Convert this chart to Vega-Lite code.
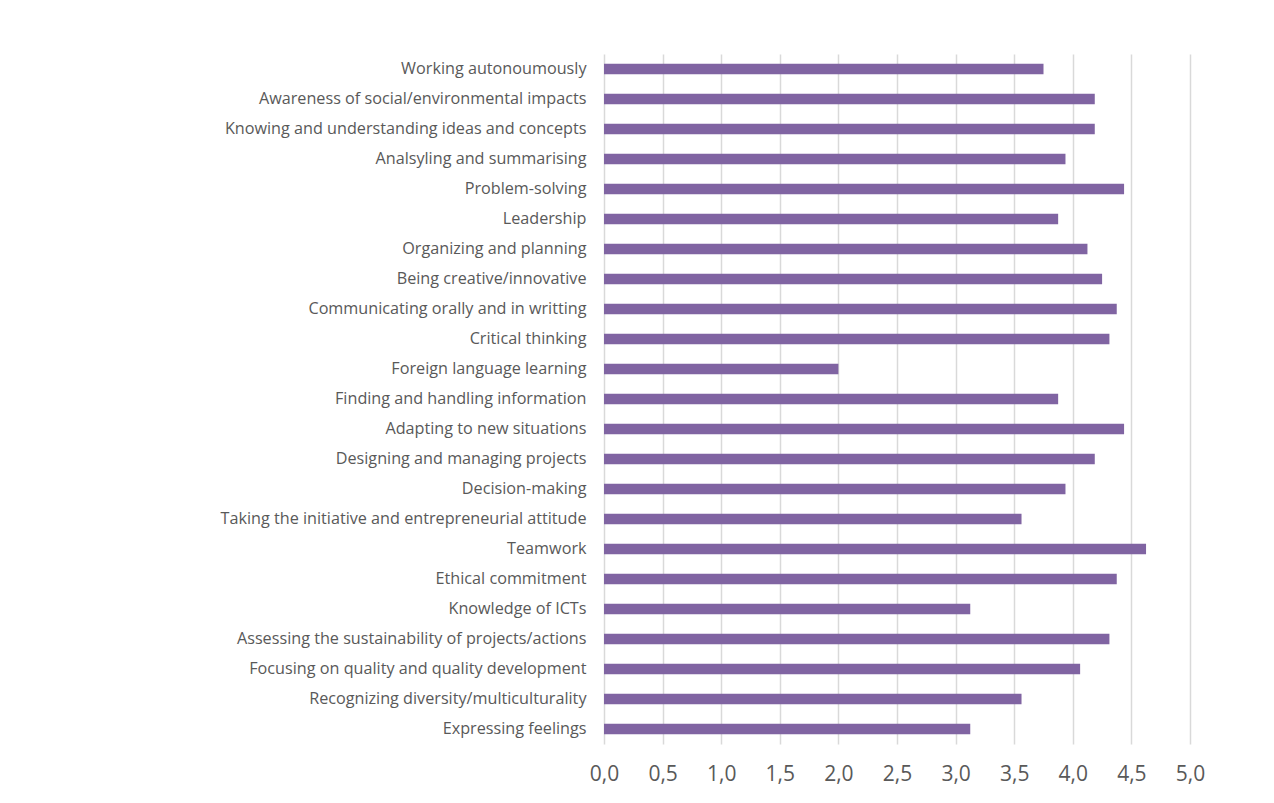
{
  "$schema": "https://vega.github.io/schema/vega-lite/v6.json",
  "autosize": {"type": "none"},
  "padding": {"left": 604, "top": 54, "right": 84, "bottom": 59},
  "width": 586,
  "height": 690,
  "background": "white",
  "data": {"values": [
    {"skill": "Working autonoumously", "score": 3.75},
    {"skill": "Awareness of social/environmental impacts", "score": 4.1875},
    {"skill": "Knowing and understanding ideas and concepts", "score": 4.1875},
    {"skill": "Analsyling and summarising", "score": 3.9375},
    {"skill": "Problem-solving", "score": 4.4375},
    {"skill": "Leadership", "score": 3.875},
    {"skill": "Organizing and planning", "score": 4.125},
    {"skill": "Being creative/innovative", "score": 4.25},
    {"skill": "Communicating orally and in writting", "score": 4.375},
    {"skill": "Critical thinking", "score": 4.3125},
    {"skill": "Foreign language learning", "score": 2.0},
    {"skill": "Finding and handling information", "score": 3.875},
    {"skill": "Adapting to new situations", "score": 4.4375},
    {"skill": "Designing and managing projects", "score": 4.1875},
    {"skill": "Decision-making", "score": 3.9375},
    {"skill": "Taking the initiative and entrepreneurial attitude", "score": 3.5625},
    {"skill": "Teamwork", "score": 4.625},
    {"skill": "Ethical commitment", "score": 4.375},
    {"skill": "Knowledge of ICTs", "score": 3.125},
    {"skill": "Assessing the sustainability of projects/actions", "score": 4.3125},
    {"skill": "Focusing on quality and quality development", "score": 4.0625},
    {"skill": "Recognizing diversity/multiculturality", "score": 3.5625},
    {"skill": "Expressing feelings", "score": 3.125}
  ]},
  "mark": {"type": "bar", "color": "#8064A2"},
  "encoding": {
    "y": {
      "field": "skill",
      "type": "nominal",
      "sort": null,
      "title": null,
      "scale": {"paddingInner": 0.645, "paddingOuter": 0.3225},
      "axis": {
        "domain": false,
        "ticks": false,
        "labelPadding": 18,
        "labelFont": "Open Sans",
        "labelFontSize": 16.2,
        "labelColor": "#595959",
        "labelLimit": 500
      }
    },
    "x": {
      "field": "score",
      "type": "quantitative",
      "title": null,
      "scale": {"domain": [0, 5], "nice": false},
      "axis": {
        "values": [0, 0.5, 1, 1.5, 2, 2.5, 3, 3.5, 4, 4.5, 5],
        "labelExpr": "replace(format(datum.value, '.1f'), '.', ',')",
        "labelFlush": false,
        "labelOverlap": false,
        "domain": false,
        "ticks": false,
        "grid": true,
        "gridColor": "#D9D9D9",
        "gridWidth": 1.5,
        "labelPadding": 19,
        "labelFont": "Open Sans",
        "labelFontSize": 21,
        "labelColor": "#595959"
      }
    }
  },
  "config": {"view": {"stroke": null}}
}
